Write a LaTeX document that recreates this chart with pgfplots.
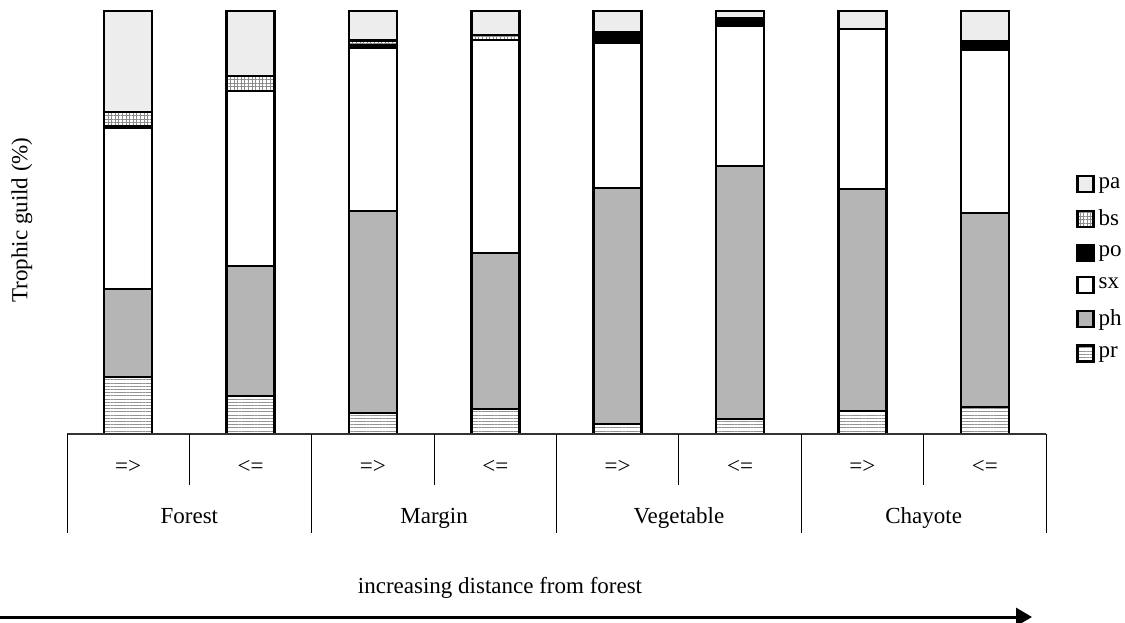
\documentclass[border=0pt]{standalone}
\usepackage{fontspec}
\setmainfont{Liberation Serif}
\usepackage{pgfplots}
\pgfplotsset{compat=1.18}
\usetikzlibrary{patterns,patterns.meta,arrows.meta}
\begin{document}
\begin{tikzpicture}[font=\fontsize{11.5bp}{13.8bp}\selectfont]
\useasboundingbox (-33.5bp,-94.5bp) rectangle (529bp,217bp);
\begin{axis}[
 at={(0,0)}, anchor=south west,
 scale only axis, width=489.5bp, height=211.5bp,
 xmin=-0.5, xmax=7.5, ymin=0, ymax=100,
 axis lines=none, clip=false,
 ybar stacked, bar width=24bp,
 every axis plot/.append style={draw=black, line width=1.3bp},
 legend image code/.code={\draw[#1, line width=1.1bp] (0bp,-4bp) rectangle (8bp,4bp);},
 reverse legend,
 legend cell align=left,
 legend style={at={(1.0307,0.617)}, anchor=north west, draw=none, fill=none, inner sep=0pt, row sep=5bp, font=\fontsize{11.5bp}{13.8bp}\selectfont},
]
% pr
\addplot[pattern={Lines[angle=0,distance=1.6bp,line width=0.45bp]}, pattern color=gray!85] coordinates {(0,13.5) (1,9.0) (2,5.0) (3,5.9) (4,2.4) (5,3.5) (6,5.4) (7,6.4)};
% ph
\addplot[fill=gray!58] coordinates {(0,20.8) (1,30.7) (2,47.7) (3,36.9) (4,55.8) (5,59.9) (6,52.5) (7,45.8)};
% sx
\addplot[fill=white] coordinates {(0,38.1) (1,41.4) (2,38.6) (3,50.3) (4,34.2) (5,33.1) (6,37.8) (7,38.6)};
% po
\addplot[fill=black] coordinates {(0,0.4) (1,0) (2,0.5) (3,0) (4,2.1) (5,1.7) (6,0) (7,2.1)};
% bs
\addplot[pattern={Hatch[angle=0,distance=1.8bp,line width=0.4bp]}, pattern color=gray!90] coordinates {(0,3.3) (1,3.5) (2,1.2) (3,1.2) (4,0.5) (5,0) (6,0) (7,0)};
% pa
\addplot[fill=gray!14] coordinates {(0,23.9) (1,15.4) (2,7.0) (3,5.7) (4,5.0) (5,1.8) (6,4.3) (7,7.1)};
\legend{pr,ph,sx,po,bs,pa}
\end{axis}
% baseline
\draw[line width=0.6bp, black!80] (0,0) -- (489.5bp,0);
% long separators
\foreach \x in {0,122.375,244.75,367.125,489.5} \draw[line width=0.5bp] (\x bp,0) -- (\x bp,-49.5bp);
% short separators
\foreach \x in {61.1875,183.5625,305.9375,428.3125} \draw[line width=0.5bp] (\x bp,0) -- (\x bp,-25.5bp);
% direction labels
\foreach \i in {0,2,4,6} \node at ({(30.59375+61.1875*\i)*1bp},-16.5bp) {=>};
\foreach \i in {1,3,5,7} \node at ({(30.59375+61.1875*\i)*1bp},-16.5bp) {<=};
% group labels
\node[anchor=base] at (61.1875bp,-44.5bp) {Forest};
\node[anchor=base] at (183.5625bp,-44.5bp) {Margin};
\node[anchor=base] at (305.9375bp,-44.5bp) {Vegetable};
\node[anchor=base] at (428.3125bp,-44.5bp) {Chayote};
% y label
\node[rotate=90] at (-22.5bp,107bp) {Trophic guild (\%)};
% bottom text and arrow
\node at (216.5bp,-77bp) {increasing distance from forest};
\draw[line width=1.5bp, -{Triangle[length=8bp,width=9bp]}] (-33.5bp,-91.5bp) -- (482.5bp,-91.5bp);
\end{tikzpicture}
\end{document}
